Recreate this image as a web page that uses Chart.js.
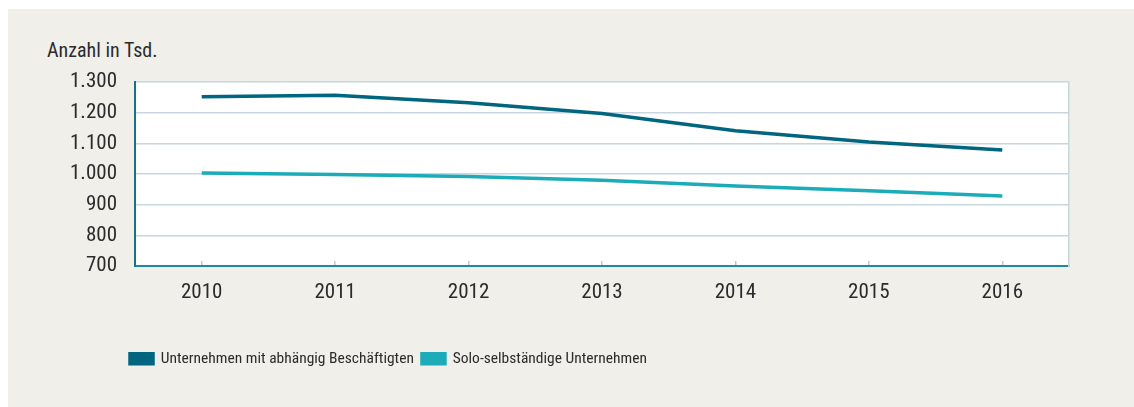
<!DOCTYPE html>
<html>
<head>
<meta charset="utf-8">
<script src="https://cdn.jsdelivr.net/npm/chart.js@4/dist/chart.umd.min.js"></script>
<style>
  body { margin: 0; background: #fff; }
  #panel { position: absolute; left: 8px; top: 9px; right: 0; bottom: 0; background: #f0efe9; }
  #unit { position: absolute; left: 47px; top: 40px; font: 20px "Roboto Condensed", sans-serif; line-height: 1; color: #2b2b2b; }
  #wrap { position: absolute; left: 0; top: 0; width: 1134px; height: 407px; }
</style>
</head>
<body>
<div id="panel"></div>
<div id="unit">Anzahl in Tsd.</div>
<div id="wrap"><canvas id="chart" width="1134" height="407"></canvas></div>
<script>
const years = ["2010", "2011", "2012", "2013", "2014", "2015", "2016"];
const mitBeschaeftigten = [1252, 1257, 1232, 1197, 1141, 1104, 1078];
const soloSelbst = [1003, 998, 992, 980, 961, 945, 928];
const seriesNames = ["Unternehmen mit abhängig Beschäftigten", "Solo-selbständige Unternehmen"];

const fontFam = '"Roboto Condensed", sans-serif';
const textCol = "#2b2b2b";
const darkCol = "#00657f";
const tealCol = "#1cabb8";
const gridCol = "#c8d6e0";

// tausender mit punkt
function fmt(v) {
  return String(v).replace(/\B(?=(\d{3})+(?!\d))/g, ".");
}

const whiteArea = {
  id: "whiteArea",
  afterLayout(chart) {
    // legende an der plotflaeche ausrichten
    const lg = chart.legend;
    const shift = chart.chartArea.left - 5 - (lg.left + lg.options.labels.padding);
    lg.left += shift;
    lg.right += shift;
  },
  beforeDraw(chart) {
    const a = chart.chartArea;
    const c = chart.ctx;
    c.save();
    c.fillStyle = "#ffffff";
    c.fillRect(a.left, a.top, a.right - a.left, a.bottom - a.top);
    c.restore();
  }
};

new Chart(document.getElementById("chart"), {
  type: "line",
  data: {
    labels: years,
    datasets: [
      { label: seriesNames[0], data: mitBeschaeftigten, borderColor: darkCol, backgroundColor: darkCol, borderWidth: 3.5, pointRadius: 0, tension: 0 },
      { label: seriesNames[1], data: soloSelbst, borderColor: tealCol, backgroundColor: tealCol, borderWidth: 3.5, pointRadius: 0, tension: 0 }
    ]
  },
  options: {
    responsive: false,
    animation: false,
    layout: { padding: { left: 60, right: 65, top: 82, bottom: 30.5 } },
    plugins: {
      tooltip: { enabled: false },
      legend: {
        position: "bottom",
        align: "start",
        labels: {
          boxWidth: 23, boxHeight: 10, padding: 8,
          color: textCol,
          font: { family: fontFam, size: 15.5 }
        }
      }
    },
    scales: {
      x: {
        offset: true,
        grid: { offset: false, drawOnChartArea: false, tickLength: -5, color: "#b7cad8", lineWidth: 1.5 },
        border: { color: "#2088a5", width: 2 },
        ticks: { color: textCol, padding: 19, font: { family: fontFam, size: 21 } },
        afterFit(s) { s.height = 77; }
      },
      y: {
        min: 700, max: 1300,
        grid: { color: gridCol, lineWidth: 1.5, drawTicks: false },
        border: { color: "#17718d", width: 2 },
        ticks: { stepSize: 100, color: textCol, padding: 18, font: { family: fontFam, size: 21 }, callback: v => fmt(v) },
        afterFit(s) { s.width = 75; }
      },
      yR: {
        position: "right",
        grid: { drawOnChartArea: false, drawTicks: false },
        border: { color: gridCol, width: 1.5 },
        ticks: { display: false }
      }
    }
  },
  plugins: [whiteArea]
});
</script>
</body>
</html>
